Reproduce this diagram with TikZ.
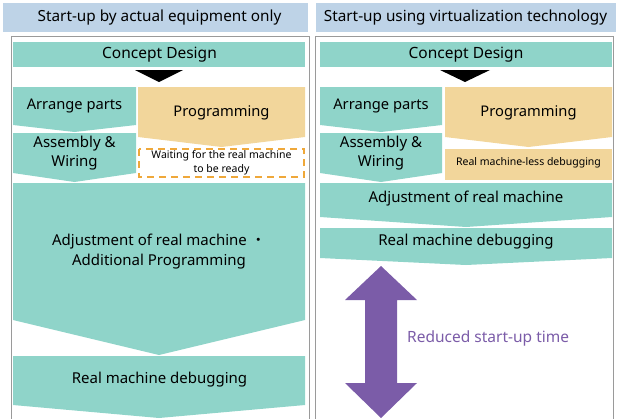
\documentclass[tikz,border=0pt]{standalone}
\usepackage{fontspec}
\setmainfont{Noto Sans}
\newfontfamily\cjk{Noto Sans CJK JP}
\definecolor{teal1}{HTML}{8FD4C9}
\definecolor{tan1}{HTML}{F2D69B}
\definecolor{head1}{HTML}{BED3E7}
\definecolor{purp}{HTML}{7B5CA8}
\definecolor{dash1}{HTML}{EFA83A}
\definecolor{frame1}{HTML}{9A9A9A}
% chevron block: x-left, x-right, top, side bottom, point, colour
\newcommand\dochev[6]{\fill[#6] (#1,#3) -- (#2,#3) -- (#2,#4) -- ({(#1+#2)/2},#5) -- (#1,#4) -- cycle;}
\begin{document}
\begin{tikzpicture}[x=1pt,y=-1pt,
  big/.style={font=\fontsize{15}{19.5}\selectfont, align=center, inner sep=0pt},
  mid/.style={font=\fontsize{14.7}{19}\selectfont, align=center, inner sep=0pt},
  title/.style={font=\fontsize{15.5}{19}\selectfont, align=center, inner sep=0pt},
  small/.style={font=\fontsize{10.5}{14}\selectfont, align=center, inner sep=0pt},
  hdr/.style={font=\fontsize{15.3}{17}\selectfont, inner sep=0pt}]
\useasboundingbox (0,0) rectangle (617,418);
\begin{scope}
\clip (0,0) rectangle (617,418);

% ---------- left column ----------
\fill[head1] (3,3) rectangle (308,32);
\node[hdr] (hL) at (159.5,17.5) {Start-up by actual equipment only};
\draw[frame1, line width=0.8pt] (11,430) -- (11,36) -- (309,36) -- (309,430);

\fill[teal1] (13,42) rectangle (305,67);
\node[title] (cdL) at (159.5,54.5) {Concept Design};
\fill[black] (135,70) -- (183,70) -- (159,82) -- cycle;

\dochev{13}{136}{87}{125}{132}{teal1}
\node[mid] (apL) at (74.5,106) {Arrange parts};
\dochev{138}{305}{87}{137}{147}{tan1}
\node[mid] (prL) at (221.5,113) {Programming};
\dochev{13}{136}{133}{173}{182}{teal1}
\node[big] (awL) at (74.5,153) {Assembly \&\\Wiring};
\draw[dash1, line width=2pt, dash pattern=on 7pt off 5pt] (139,149) rectangle (304,177);
\node[small] (wtL) at (221.5,163) {Waiting for the real machine\\to be ready};

\dochev{13}{305}{183}{320}{355}{teal1}
\node[big, font=\fontsize{15}{20}\selectfont] (adL) at (159,252) {Adjustment of real machine {\cjk ・}\\Additional Programming};
\dochev{13}{305}{356}{405}{418}{teal1}
\node[big] (dbL) at (159.5,380) {Real machine debugging};

% ---------- right column ----------
\fill[head1] (316,3) rectangle (616,32);
\node[hdr] (hR) at (465.5,17.5) {Start-up using virtualization technology};
\draw[frame1, line width=0.8pt] (315,430) -- (315,36) -- (613,36) -- (613,430);

\fill[teal1] (320,42) rectangle (612,67);
\node[title] (cdR) at (466,54.5) {Concept Design};
\fill[black] (440,70) -- (490,70) -- (465,82) -- cycle;

\dochev{320}{442}{87}{125}{132}{teal1}
\node[mid] (apR) at (381,106) {Arrange parts};
\dochev{445}{612}{87}{137}{147}{tan1}
\node[mid] (prR) at (528.5,113) {Programming};
\dochev{320}{442}{133}{173}{182}{teal1}
\node[big] (awR) at (381,153) {Assembly \&\\Wiring};
\fill[tan1] (445,149) rectangle (612,180);
\node[small] (rlR) at (528.5,163) {Real machine-less debugging};

\dochev{320}{612}{183}{217}{227}{teal1}
\node[big] (adR) at (466,199) {Adjustment of real machine};
\dochev{320}{612}{228}{258}{265}{teal1}
\node[big] (dbR) at (466,242) {Real machine debugging};

% double arrow: reduced time
\fill[purp] (381,266) -- (417,300) -- (397,300) -- (397,383) -- (417,383)
  -- (381,418) -- (345,383) -- (365,383) -- (365,300) -- (345,300) -- cycle;
\node[title, anchor=west, text=purp] (rt) at (407,338) {Reduced start-up time};
\end{scope}
\end{tikzpicture}
\end{document}
